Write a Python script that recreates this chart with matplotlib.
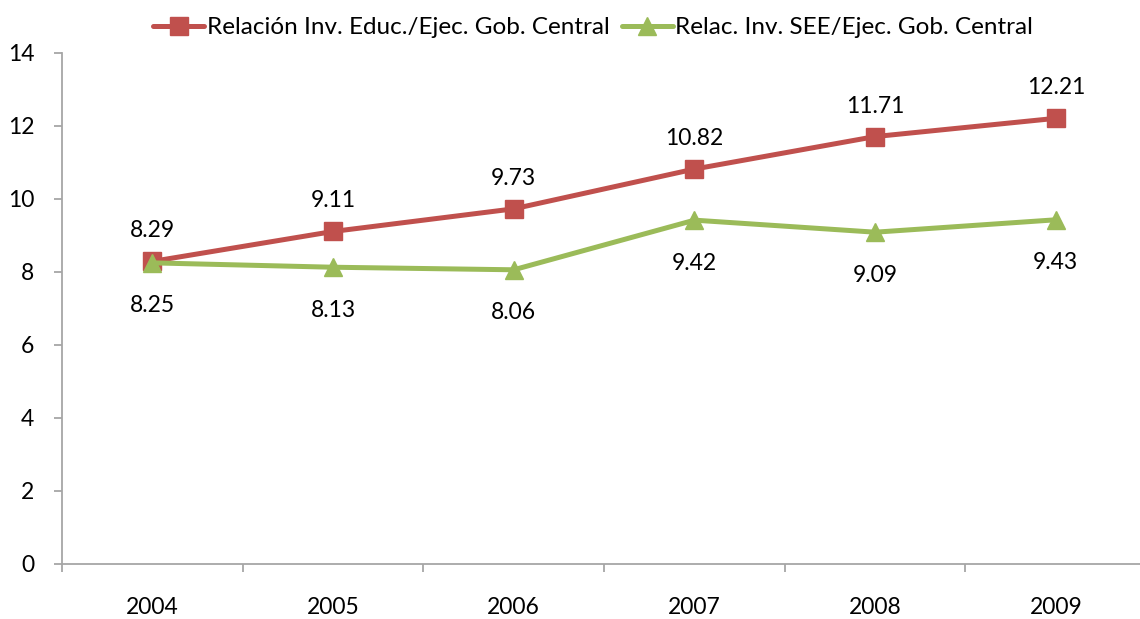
import matplotlib.pyplot as plt
import numpy as np

plt.rcParams['font.family'] = ['Lato', 'DejaVu Sans']

years = ['2004', '2005', '2006', '2007', '2008', '2009']
educ = [8.29, 9.11, 9.73, 10.82, 11.71, 12.21]
see = [8.25, 8.13, 8.06, 9.42, 9.09, 9.43]
educ_label = 'Relación Inv. Educ./Ejec. Gob. Central'
see_label = 'Relac. Inv. SEE/Ejec. Gob. Central'

red = '#C0504D'
green = '#9BBB59'
grey = '#A6A6A6'
fs = 16.5

fig = plt.figure(figsize=(11.4, 6.19), dpi=100)
# axis runs a bit past the right edge, like the original
ax = fig.add_axes([0.0544, 0.0889, 0.951, 0.8255])

x = np.arange(len(years))
ax.plot(x, educ, color=red, lw=3.6, marker='s', ms=12.5, label=educ_label, solid_capstyle='round')
ax.plot(x, see, color=green, lw=3.6, marker='^', ms=13, label=see_label, solid_capstyle='round')

for i in range(len(years)):
    ax.annotate(f'{educ[i]:.2f}', (x[i], educ[i]), xytext=(0, 22), textcoords='offset points',
                ha='center', va='center', fontsize=fs)
    ax.annotate(f'{see[i]:.2f}', (x[i], see[i]), xytext=(0, -31), textcoords='offset points',
                ha='center', va='center', fontsize=fs)

ax.set_xlim(-0.5, len(years) - 0.5)
ax.set_ylim(0, 14)
ax.set_yticks(range(0, 15, 2))
ax.set_xticks(x)
ax.set_xticklabels(years)
ax.set_xticks(np.arange(-0.5, len(years)), minor=True)
ax.tick_params(axis='x', which='major', length=0, pad=24, labelsize=fs)
ax.tick_params(axis='x', which='minor', length=6, color=grey, width=1.3)
ax.tick_params(axis='y', length=6, color=grey, width=1.3, labelsize=fs, pad=14)

for s in ['top', 'right']:
    ax.spines[s].set_visible(False)
for s in ['left', 'bottom']:
    ax.spines[s].set_color(grey)
    ax.spines[s].set_linewidth(1.3)

ax.legend(loc='lower center', bbox_to_anchor=(0.49, 1.01), ncol=2, frameon=False,
          fontsize=17.5, handlelength=2.1, handletextpad=0.1, columnspacing=0.5,
          borderaxespad=0)

fig.savefig('out.png', dpi=100)
